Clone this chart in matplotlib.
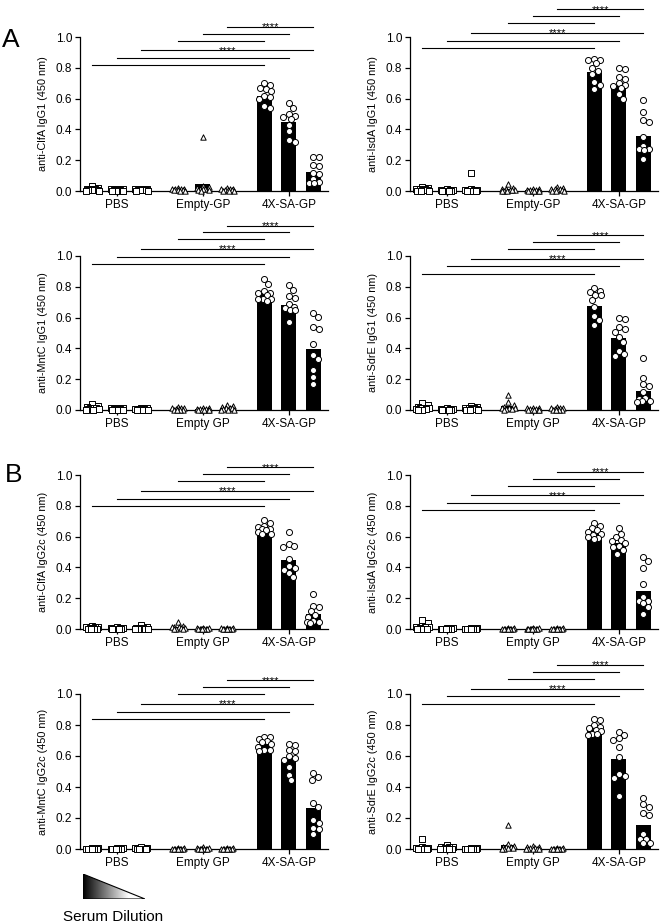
""" ELISA titres of anti-antigen IgG1 / IgG2c after GP vaccination """
import numpy as np
import matplotlib
matplotlib.use("Agg")
import matplotlib.pyplot as plt
from matplotlib.patches import Polygon

plt.rcParams['font.family'] = ['Liberation Sans', 'DejaVu Sans']

groups_dash = ["PBS", "Empty-GP", "4X-SA-GP"]
groups_space = ["PBS", "Empty GP", "4X-SA-GP"]

ylabels = [
    "anti-ClfA IgG1 (450 nm)", "anti-IsdA IgG1 (450 nm)",
    "anti-MntC IgG1 (450 nm)", "anti-SdrE IgG1 (450 nm)",
    "anti-ClfA IgG2c (450 nm)", "anti-IsdA IgG2c (450 nm)",
    "anti-MntC IgG2c (450 nm)", "anti-SdrE IgG2c (450 nm)",
]

# bar heights (group means), 3 dilutions per group: PBS, Empty, 4X
clfa_igg1_mean = [0.010, 0.006, 0.008, 0.009, 0.045, 0.007, 0.620, 0.450, 0.124]
isda_igg1_mean = [0.009, 0.003, 0.015, 0.010, 0.004, 0.009, 0.775, 0.680, 0.360]
mntc_igg1_mean = [0.013, 0.005, 0.004, 0.007, 0.004, 0.012, 0.760, 0.685, 0.395]
sdre_igg1_mean = [0.014, 0.003, 0.009, 0.025, 0.006, 0.007, 0.675, 0.470, 0.122]
clfa_igg2c_mean = [0.007, 0.003, 0.005, 0.012, 0.002, 0.002, 0.645, 0.447, 0.097]
isda_igg2c_mean = [0.016, 0.002, 0.002, 0.002, 0.002, 0.002, 0.620, 0.560, 0.250]
mntc_igg2c_mean = [0.002, 0.002, 0.003, 0.002, 0.003, 0.002, 0.678, 0.582, 0.267]
sdre_igg2c_mean = [0.009, 0.007, 0.002, 0.026, 0.005, 0.002, 0.778, 0.583, 0.158]

# individual mice (10 per bar)
clfa_igg1_pts = [
    [0.03, 0.02, 0.015, 0.01, 0.01, 0.005, 0.005, 0.005, 0.0, 0.0],
    [0.015, 0.01, 0.01, 0.005, 0.005, 0.005, 0.0, 0.0, 0.0, 0.0],
    [0.015, 0.01, 0.01, 0.01, 0.005, 0.005, 0.005, 0.005, 0.0, 0.0],
    [0.02, 0.015, 0.01, 0.01, 0.01, 0.005, 0.005, 0.005, 0.0, 0.0],
    [0.35, 0.03, 0.025, 0.02, 0.015, 0.01, 0.01, 0.005, 0.005, 0.0],
    [0.02, 0.015, 0.01, 0.01, 0.005, 0.005, 0.005, 0.0, 0.0, 0.0],
    [0.70, 0.69, 0.67, 0.66, 0.65, 0.62, 0.61, 0.60, 0.55, 0.54],
    [0.57, 0.54, 0.50, 0.49, 0.48, 0.47, 0.43, 0.39, 0.33, 0.32],
    [0.22, 0.22, 0.17, 0.16, 0.12, 0.11, 0.08, 0.06, 0.05, 0.05],
]
isda_igg1_pts = [
    [0.025, 0.02, 0.015, 0.01, 0.01, 0.005, 0.005, 0.0, 0.0, 0.0],
    [0.01, 0.005, 0.005, 0.005, 0.0, 0.0, 0.0, 0.0, 0.0, 0.0],
    [0.12, 0.01, 0.005, 0.005, 0.005, 0.0, 0.0, 0.0, 0.0, 0.0],
    [0.045, 0.02, 0.01, 0.01, 0.005, 0.005, 0.005, 0.0, 0.0, 0.0],
    [0.01, 0.01, 0.005, 0.005, 0.005, 0.0, 0.0, 0.0, 0.0, 0.0],
    [0.025, 0.02, 0.015, 0.01, 0.01, 0.005, 0.005, 0.0, 0.0, 0.0],
    [0.86, 0.85, 0.85, 0.83, 0.80, 0.78, 0.76, 0.71, 0.69, 0.665],
    [0.80, 0.79, 0.74, 0.73, 0.70, 0.69, 0.68, 0.67, 0.63, 0.60],
    [0.59, 0.51, 0.46, 0.445, 0.35, 0.295, 0.275, 0.27, 0.265, 0.21],
]
mntc_igg1_pts = [
    [0.04, 0.025, 0.02, 0.015, 0.01, 0.01, 0.005, 0.005, 0.0, 0.0],
    [0.015, 0.01, 0.01, 0.005, 0.005, 0.0, 0.0, 0.0, 0.0, 0.0],
    [0.01, 0.01, 0.005, 0.005, 0.005, 0.0, 0.0, 0.0, 0.0, 0.0],
    [0.02, 0.015, 0.01, 0.01, 0.005, 0.005, 0.0, 0.0, 0.0, 0.0],
    [0.01, 0.01, 0.005, 0.005, 0.005, 0.0, 0.0, 0.0, 0.0, 0.0],
    [0.035, 0.025, 0.02, 0.015, 0.01, 0.01, 0.005, 0.0, 0.0, 0.0],
    [0.85, 0.82, 0.77, 0.76, 0.76, 0.75, 0.72, 0.72, 0.71, 0.72],
    [0.81, 0.78, 0.74, 0.73, 0.69, 0.67, 0.66, 0.65, 0.65, 0.57],
    [0.628, 0.602, 0.537, 0.524, 0.43, 0.355, 0.329, 0.26, 0.216, 0.167],
]
sdre_igg1_pts = [
    [0.045, 0.03, 0.02, 0.015, 0.01, 0.01, 0.005, 0.005, 0.0, 0.0],
    [0.01, 0.005, 0.005, 0.005, 0.0, 0.0, 0.0, 0.0, 0.0, 0.0],
    [0.025, 0.02, 0.015, 0.01, 0.01, 0.005, 0.005, 0.0, 0.0, 0.0],
    [0.10, 0.05, 0.03, 0.02, 0.015, 0.01, 0.01, 0.005, 0.005, 0.0],
    [0.015, 0.01, 0.01, 0.005, 0.005, 0.0, 0.0, 0.0, 0.0, 0.0],
    [0.02, 0.015, 0.01, 0.01, 0.005, 0.005, 0.0, 0.0, 0.0, 0.0],
    [0.79, 0.77, 0.765, 0.75, 0.745, 0.715, 0.67, 0.61, 0.585, 0.555],
    [0.60, 0.594, 0.538, 0.529, 0.508, 0.471, 0.443, 0.38, 0.365, 0.352],
    [0.335, 0.207, 0.168, 0.153, 0.115, 0.078, 0.07, 0.056, 0.056, 0.05],
]
clfa_igg2c_pts = [
    [0.02, 0.015, 0.01, 0.01, 0.005, 0.005, 0.0, 0.0, 0.0, 0.0],
    [0.01, 0.005, 0.005, 0.005, 0.0, 0.0, 0.0, 0.0, 0.0, 0.0],
    [0.025, 0.01, 0.005, 0.005, 0.005, 0.0, 0.0, 0.0, 0.0, 0.0],
    [0.045, 0.02, 0.015, 0.01, 0.01, 0.005, 0.005, 0.0, 0.0, 0.0],
    [0.005, 0.005, 0.005, 0.0, 0.0, 0.0, 0.0, 0.0, 0.0, 0.0],
    [0.005, 0.005, 0.005, 0.0, 0.0, 0.0, 0.0, 0.0, 0.0, 0.0],
    [0.71, 0.69, 0.67, 0.66, 0.65, 0.65, 0.64, 0.63, 0.62, 0.62],
    [0.63, 0.55, 0.536, 0.53, 0.456, 0.406, 0.395, 0.385, 0.363, 0.335],
    [0.225, 0.15, 0.145, 0.115, 0.09, 0.08, 0.05, 0.045, 0.045, 0.04],
]
isda_igg2c_pts = [
    [0.06, 0.04, 0.02, 0.015, 0.01, 0.01, 0.005, 0.0, 0.0, 0.0],
    [0.005, 0.005, 0.0, 0.0, 0.0, 0.0, 0.0, 0.0, 0.0, 0.0],
    [0.005, 0.005, 0.0, 0.0, 0.0, 0.0, 0.0, 0.0, 0.0, 0.0],
    [0.005, 0.005, 0.0, 0.0, 0.0, 0.0, 0.0, 0.0, 0.0, 0.0],
    [0.005, 0.005, 0.0, 0.0, 0.0, 0.0, 0.0, 0.0, 0.0, 0.0],
    [0.005, 0.005, 0.0, 0.0, 0.0, 0.0, 0.0, 0.0, 0.0, 0.0],
    [0.69, 0.67, 0.655, 0.64, 0.63, 0.62, 0.61, 0.60, 0.59, 0.585],
    [0.655, 0.62, 0.60, 0.58, 0.57, 0.56, 0.54, 0.53, 0.51, 0.49],
    [0.465, 0.44, 0.395, 0.29, 0.21, 0.185, 0.185, 0.17, 0.145, 0.10],
]
mntc_igg2c_pts = [
    [0.005, 0.005, 0.0, 0.0, 0.0, 0.0, 0.0, 0.0, 0.0, 0.0],
    [0.005, 0.005, 0.0, 0.0, 0.0, 0.0, 0.0, 0.0, 0.0, 0.0],
    [0.01, 0.005, 0.005, 0.0, 0.0, 0.0, 0.0, 0.0, 0.0, 0.0],
    [0.005, 0.005, 0.0, 0.0, 0.0, 0.0, 0.0, 0.0, 0.0, 0.0],
    [0.01, 0.005, 0.005, 0.0, 0.0, 0.0, 0.0, 0.0, 0.0, 0.0],
    [0.005, 0.005, 0.0, 0.0, 0.0, 0.0, 0.0, 0.0, 0.0, 0.0],
    [0.725, 0.72, 0.71, 0.70, 0.69, 0.68, 0.66, 0.64, 0.63, 0.64],
    [0.68, 0.67, 0.64, 0.63, 0.60, 0.59, 0.575, 0.53, 0.48, 0.445],
    [0.49, 0.465, 0.445, 0.295, 0.27, 0.19, 0.17, 0.135, 0.13, 0.095],
]
sdre_igg2c_pts = [
    [0.065, 0.01, 0.005, 0.005, 0.005, 0.0, 0.0, 0.0, 0.0, 0.0],
    [0.025, 0.015, 0.01, 0.01, 0.005, 0.005, 0.0, 0.0, 0.0, 0.0],
    [0.005, 0.005, 0.0, 0.0, 0.0, 0.0, 0.0, 0.0, 0.0, 0.0],
    [0.155, 0.03, 0.02, 0.015, 0.01, 0.01, 0.005, 0.005, 0.0, 0.0],
    [0.02, 0.01, 0.01, 0.005, 0.005, 0.0, 0.0, 0.0, 0.0, 0.0],
    [0.005, 0.005, 0.0, 0.0, 0.0, 0.0, 0.0, 0.0, 0.0, 0.0],
    [0.84, 0.835, 0.80, 0.79, 0.78, 0.77, 0.76, 0.745, 0.735, 0.74],
    [0.756, 0.734, 0.713, 0.702, 0.659, 0.594, 0.482, 0.469, 0.46, 0.339],
    [0.33, 0.29, 0.27, 0.23, 0.22, 0.10, 0.065, 0.065, 0.04, 0.04],
]

means = [clfa_igg1_mean, isda_igg1_mean, mntc_igg1_mean, sdre_igg1_mean,
         clfa_igg2c_mean, isda_igg2c_mean, mntc_igg2c_mean, sdre_igg2c_mean]
points = [clfa_igg1_pts, isda_igg1_pts, mntc_igg1_pts, sdre_igg1_pts,
          clfa_igg2c_pts, isda_igg2c_pts, mntc_igg2c_pts, sdre_igg2c_pts]
# height of the lowest comparison bracket in each panel
bracket_base = [0.817, 0.93, 0.948, 0.885, 0.80, 0.77, 0.838, 0.937]

xpos = [0, 1, 2, 3.5, 4.5, 5.5, 7, 8, 9]
centers = [1, 4.5, 8]
markers = ['s'] * 3 + ['^'] * 3 + ['o'] * 3


def swarm(vals, halfw=0.26, sx=24.5, sy=153.0, d=5.8):
    """ spread points sideways so they overlap as little as possible """
    vals = np.asarray(vals, dtype=float)
    cands = sorted(np.arange(-halfw, halfw + 1e-9, 0.02), key=lambda c: (abs(c), c))
    offs = np.zeros(len(vals))
    placed = []
    for i in np.argsort(-vals, kind="stable"):
        pick, best, bestd = None, cands[0], -1.0
        for c in cands:
            if not placed:
                pick = c
                break
            dist = min(np.hypot((c - px) * sx, (vals[i] - py) * sy) for px, py in placed)
            if dist >= d:
                pick = c
                break
            if dist > bestd:
                best, bestd = c, dist
        if pick is None:
            pick = best
        offs[i] = pick
        placed.append((pick, vals[i]))
    return offs


fig = plt.figure(figsize=(6.62, 9.24), dpi=100)
W, H = 662.0, 924.0
cols = [80, 410]
rows = [(37, 191), (256, 410), (475, 629), (694, 849)]

for k in range(8):
    r, c = divmod(k, 2)
    top, bot = rows[r]
    ax = fig.add_axes([cols[c] / W, 1 - bot / H, 248 / W, (bot - top) / H])
    ax.bar(xpos, means[k], width=0.61, color='black', zorder=2)
    for j in range(9):
        v = points[k][j]
        x = xpos[j] + swarm(v)
        ax.scatter(x, v, marker=markers[j], s=19 if markers[j] == 'o' else 15,
                   facecolor='white', edgecolor='black', linewidth=0.7,
                   zorder=4, clip_on=False)
    ax.set_xlim(-0.5, 9.6)
    ax.set_ylim(0, 1.0)
    ax.set_yticks(np.arange(0, 1.01, 0.2))
    ax.set_yticklabels([f"{t:.1f}" for t in np.arange(0, 1.01, 0.2)], fontsize=8.5)
    ax.set_xticks(centers)
    ax.set_xticklabels(groups_dash if k < 2 else groups_space, fontsize=8.5)
    ax.tick_params(length=3.5, width=0.9, pad=2)
    for s in ['top', 'right']:
        ax.spines[s].set_visible(False)
    for s in ['left', 'bottom']:
        ax.spines[s].set_linewidth(0.9)
        ax.spines[s].set_zorder(3)
    ax.set_ylabel(ylabels[k], fontsize=7.8)
    ax.yaxis.set_label_coords(-0.13, 0.5)

    # comparison brackets: PBS -> 4X, then Empty -> 4X
    steps = [0, 0.047, 0.097, 0.16, 0.205, 0.25]
    for n in range(6):
        y = bracket_base[k] + steps[n]
        x0, x1 = xpos[n], xpos[6 + n % 3]
        ax.plot([x0, x1], [y, y], color='black', lw=0.8, clip_on=False)
        if n in (2, 5):
            ax.annotate("****", xy=((x0 + x1) / 2, y), xytext=(0, -2.5),
                        textcoords='offset points', ha='center', va='baseline',
                        fontsize=8, annotation_clip=False)

fig.text(2 / W, 1 - 47 / H, "A", fontsize=19, va='baseline')
fig.text(5 / W, 1 - 482 / H, "B", fontsize=19, va='baseline')

# serum dilution wedge
tax = fig.add_axes([83 / W, 1 - 899 / H, 62 / W, 25 / H])
grad = np.clip(np.linspace(0, 1.35, 256), 0, 1).reshape(1, -1)
img = tax.imshow(grad, cmap='gray', extent=[0, 1, 0, 1], aspect='auto', vmin=0, vmax=1)
tri = Polygon([(0, 0), (0, 1), (1, 0)], closed=True, transform=tax.transData,
              facecolor='none', edgecolor='black', lw=0.8)
img.set_clip_path(tri)
tax.add_patch(tri)
tax.set_xlim(0, 1)
tax.set_ylim(0, 1)
tax.axis('off')
fig.text(63 / W, 1 - 921 / H, "Serum Dilution", fontsize=11, va='baseline')

fig.savefig("out.png", dpi=100)
